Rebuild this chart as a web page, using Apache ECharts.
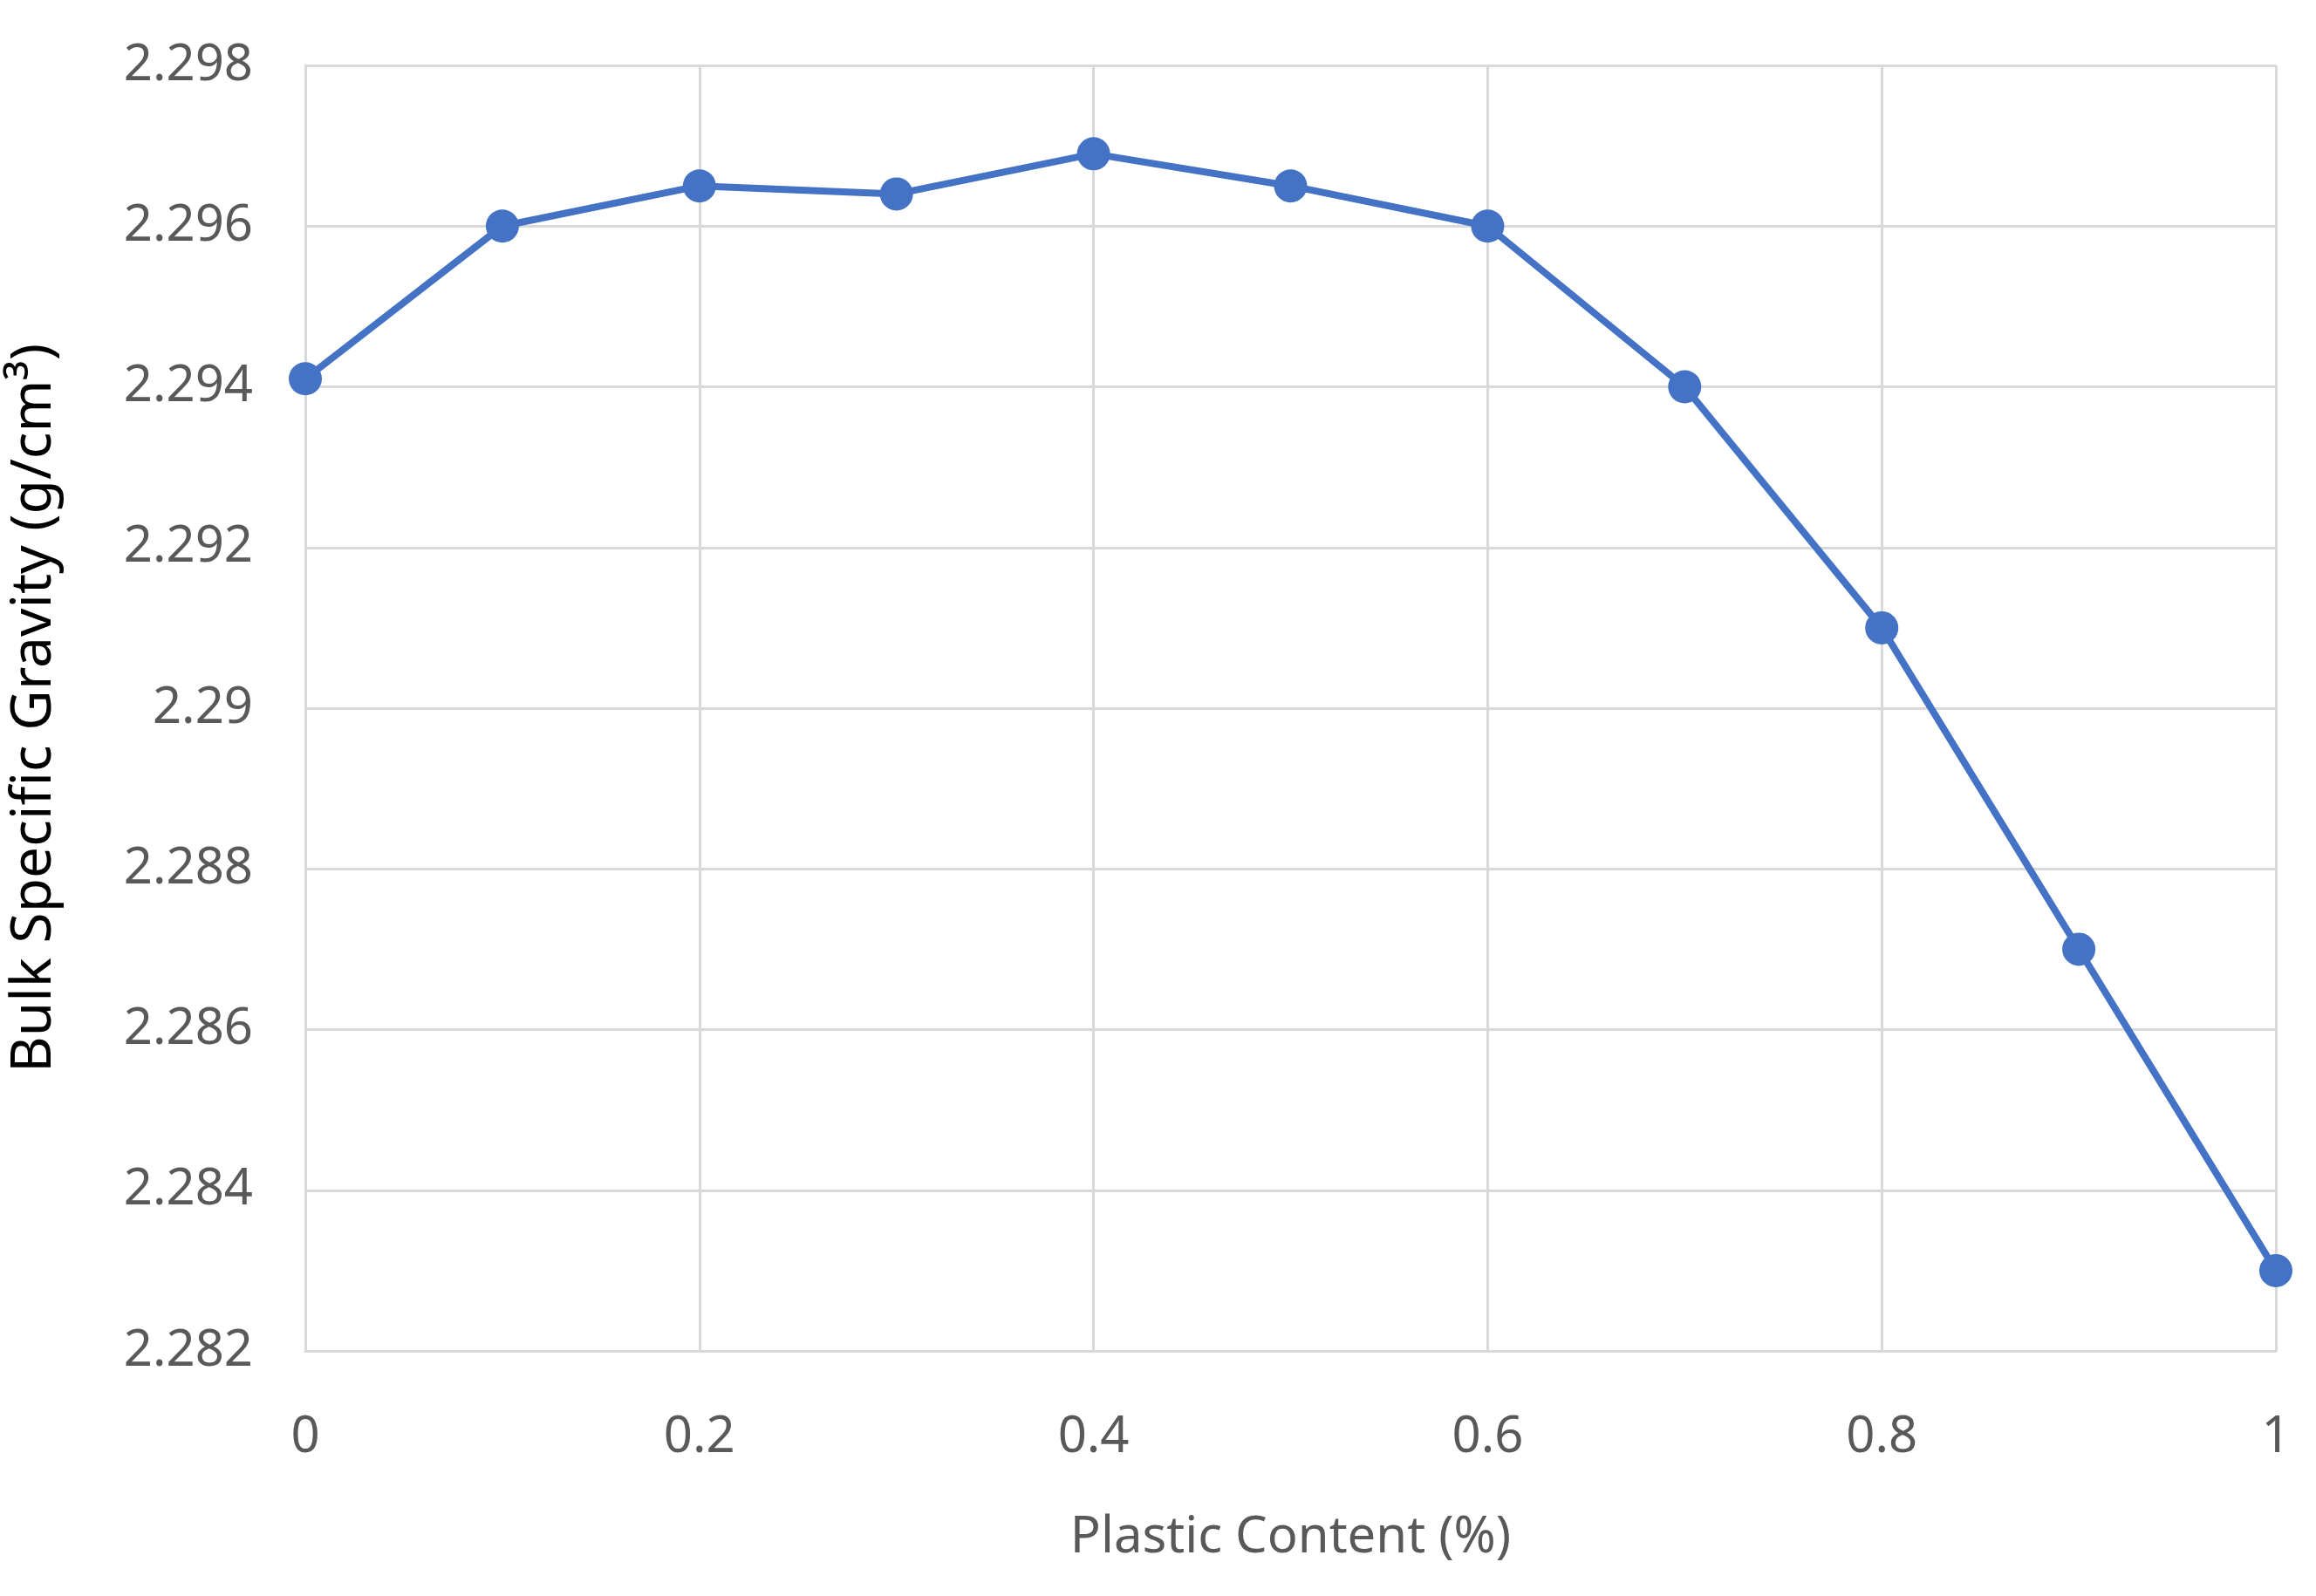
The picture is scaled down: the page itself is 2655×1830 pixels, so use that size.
<!DOCTYPE html>
<html>
<head>
<meta charset="utf-8">
<script src="https://cdn.jsdelivr.net/npm/echarts@6/dist/echarts.min.js"></script>
<style>html,body{margin:0;background:#fff}#chart{width:2655px;height:1830px}</style>
</head>
<body>
<div id="chart"></div>
<script>
const plasticContent = [0, 0.1, 0.2, 0.3, 0.4, 0.5, 0.6, 0.7, 0.8, 0.9, 1];
const bulkGravity = [2.2941, 2.2960, 2.2965, 2.2964, 2.2969, 2.2965, 2.2960, 2.2940, 2.2910, 2.2870, 2.2830];

const textColor = '#595959';
const gridColor = '#d9d9d9';
const font = 'Liberation Sans Narrow, Noto Sans, sans-serif';

let myChart = echarts.init(document.getElementById('chart'));
myChart.setOption({
    animation: false,
    grid: {left: 340, right: 46, top: 75, bottom: 281},
    xAxis: {
        type: 'value',
        min: 0,
        max: 1,
        interval: 0.2,
        name: 'Plastic Content (%)',
        nameLocation: 'middle',
        nameGap: 185,
        nameTextStyle: {color: textColor, fontSize: 58, fontFamily: font},
        axisLine: {show: true, lineStyle: {color: gridColor, width: 3}},
        axisTick: {show: false},
        axisLabel: {color: textColor, fontSize: 58, fontFamily: font, margin: 70},
        splitLine: {show: true, lineStyle: {color: gridColor, width: 3}}
    },
    yAxis: {
        type: 'value',
        min: 2.282,
        max: 2.298,
        interval: 0.002,
        name: 'Bulk Specific Gravity (g/cm³)',
        nameLocation: 'middle',
        nameGap: 278,
        nameTextStyle: {color: '#000', fontSize: 64, fontFamily: 'Noto Sans, sans-serif'},
        axisLine: {show: true, lineStyle: {color: gridColor, width: 3}},
        axisTick: {show: false},
        axisLabel: {color: textColor, fontSize: 58, fontFamily: font, margin: 60,
            formatter: v => String(parseFloat(v.toFixed(3)))},
        splitLine: {show: true, lineStyle: {color: gridColor, width: 3}}
    },
    series: [{
        type: 'line',
        data: plasticContent.map((x, i) => [x, bulkGravity[i]]),
        symbol: 'circle',
        symbolSize: 38,
        itemStyle: {color: '#4472C4'},
        lineStyle: {color: '#4472C4', width: 8}
    }]
});
</script>
</body>
</html>
